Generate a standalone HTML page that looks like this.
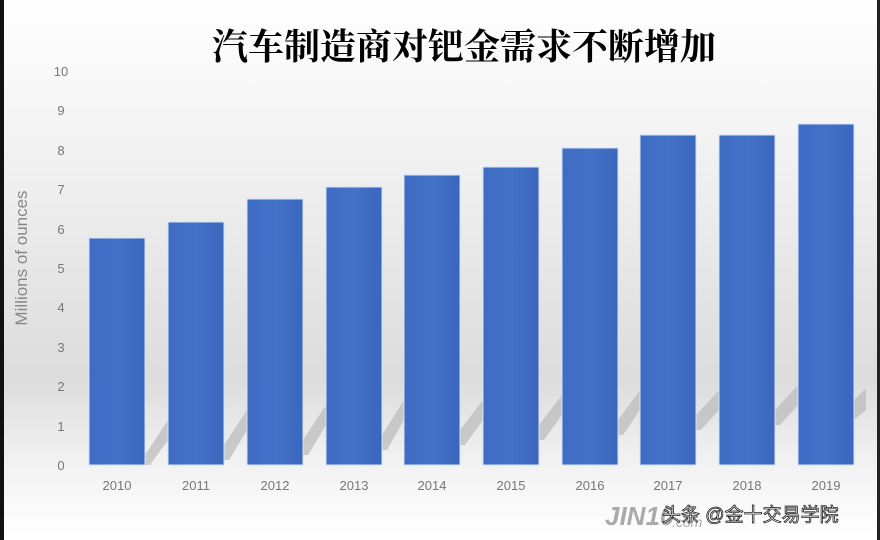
<!DOCTYPE html>
<html><head><meta charset="utf-8"><style>
html,body{margin:0;padding:0;width:880px;height:540px;overflow:hidden;background:#fff}
</style></head><body>
<svg width="880" height="540" xmlns="http://www.w3.org/2000/svg" font-family="'Liberation Sans','Noto Sans CJK SC',sans-serif">
<defs>
<linearGradient id="bg" x1="0" y1="0" x2="0" y2="1">
<stop offset="0" stop-color="#ffffff"/>
<stop offset="0.35" stop-color="#eeeeee"/>
<stop offset="0.7" stop-color="#dcdcdc"/>
<stop offset="0.86" stop-color="#f2f2f2"/>
<stop offset="1" stop-color="#ffffff"/>
</linearGradient>
<linearGradient id="bar" x1="0" y1="0" x2="1" y2="0">
<stop offset="0" stop-color="#3e6cc4"/>
<stop offset="0.5" stop-color="#4472c8"/>
<stop offset="1" stop-color="#3a66bd"/>
</linearGradient>
</defs>
<rect width="880" height="540" fill="url(#bg)"/>
<rect x="0" y="0" width="4" height="540" fill="#111"/>
<rect x="877" y="0" width="3" height="540" fill="#222"/>
<g fill="#bdbdbd" opacity="0.75">
<polygon points="145,455 168,420 168,440 150,465 145,465"/>
<polygon points="224,445 247,410 247,430 229,460 224,460"/>
<polygon points="303,440 326,405 326,425 308,455 303,455"/>
<polygon points="382,435 404,400 404,420 387,450 382,450"/>
<polygon points="460,430 483,400 483,420 465,445 460,445"/>
<polygon points="539,425 562,395 562,415 544,440 539,440"/>
<polygon points="618,420 640,390 640,410 623,435 618,435"/>
<polygon points="696,415 719,390 719,410 701,430 696,430"/>
<polygon points="775,410 798,385 798,405 780,425 775,425"/>
<polygon points="854,400 866,388 866,410 854,420"/>
</g>
<text x="464" y="59" font-size="36" font-weight="bold" text-anchor="middle" fill="#000" font-family="'Noto Serif CJK SC','Noto Sans CJK SC',serif">汽车制造商对钯金需求不断增加</text>
<g font-size="13" fill="#777" text-anchor="middle">
<text x="61" y="470">0</text><text x="61" y="431">1</text><text x="61" y="391">2</text><text x="61" y="352">3</text><text x="61" y="312">4</text><text x="61" y="273">5</text><text x="61" y="234">6</text><text x="61" y="194">7</text><text x="61" y="155">8</text><text x="61" y="115">9</text><text x="61" y="76">10</text>
</g>
<text transform="translate(27,258) rotate(-90)" font-size="17" fill="#888" text-anchor="middle">Millions of ounces</text>
<g fill="url(#bar)" stroke="#d6e2f5" stroke-width="1">
<rect x="89" y="238" width="56" height="227"/>
<rect x="168" y="222" width="56" height="243"/>
<rect x="247" y="199" width="56" height="266"/>
<rect x="326" y="187" width="56" height="278"/>
<rect x="404" y="175" width="56" height="290"/>
<rect x="483" y="167" width="56" height="298"/>
<rect x="562" y="148" width="56" height="317"/>
<rect x="640" y="135" width="56" height="330"/>
<rect x="719" y="135" width="56" height="330"/>
<rect x="798" y="124" width="56" height="341"/>
</g>
<g font-size="13" fill="#777" text-anchor="middle">
<text x="117" y="490">2010</text><text x="196" y="490">2011</text><text x="275" y="490">2012</text><text x="354" y="490">2013</text><text x="432" y="490">2014</text><text x="511" y="490">2015</text><text x="590" y="490">2016</text><text x="668" y="490">2017</text><text x="747" y="490">2018</text><text x="826" y="490">2019</text>
</g>
<text x="605" y="525" font-size="26" font-style="italic" font-weight="bold" fill="#aaa">JIN10</text>
<text x="672" y="527" font-size="14" font-style="italic" fill="#aaa">.com</text>
<text x="662" y="521" font-size="19" fill="#fff" stroke="#222" stroke-width="0.8">头条 @金十交易学院</text>
</svg>
</body></html>
